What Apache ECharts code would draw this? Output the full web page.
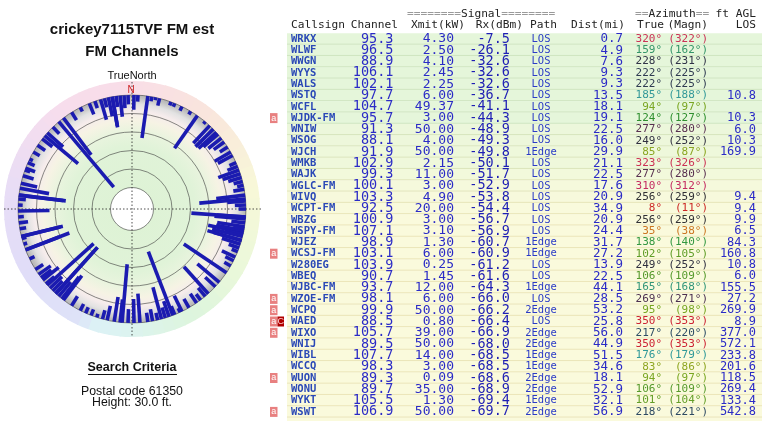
<!DOCTYPE html>
<html><head><meta charset="utf-8">
<script src="https://cdn.jsdelivr.net/npm/echarts@6.0.0/dist/echarts.min.js"></script>
<style>html,body{margin:0;padding:0;background:#fff;}#c{width:762px;height:421px;}</style>
</head><body><div id="c"></div>
<script>
// ---------- table data ----------
const calls = ['WRKX','WLWF','WWGN','WYYS','WALS','WSTQ','WCFL','WJDK-FM','WNIW','WSOG','WJCH','WMKB','WAJK','WGLC-FM','WIVQ','WCPT-FM','WBZG','WSPY-FM','WJEZ','WCSJ-FM','W280EG','WBEQ','WJBC-FM','WZOE-FM','WCPQ','WAED','WIXO','WNIJ','WIBL','WCCQ','WUON','WONU','WYKT','WSWT'];
const channel = [95.3,96.5,88.9,106.1,102.1,97.7,104.7,95.7,91.3,88.1,91.9,102.9,99.3,100.1,103.3,92.5,100.9,107.1,98.9,103.1,103.9,90.7,93.7,98.1,99.9,88.5,105.7,89.5,107.7,98.3,89.3,89.7,105.5,106.9];
const xmitKW = [4.30,2.50,4.10,2.45,2.25,6.00,49.37,3.00,50.00,4.00,50.00,2.15,11.00,3.00,4.90,20.00,3.00,3.10,1.30,6.00,0.25,1.45,12.00,6.00,50.00,0.80,39.00,50.00,14.00,3.00,0.09,35.00,1.30,50.00];
const rxDbm = [-7.5,-26.1,-32.6,-32.6,-32.6,-36.7,-41.1,-44.3,-48.9,-49.3,-49.8,-50.1,-51.7,-52.9,-53.8,-54.4,-56.7,-56.9,-60.7,-60.9,-61.2,-61.6,-64.3,-66.0,-66.2,-66.4,-66.9,-68.0,-68.5,-68.5,-68.6,-68.9,-69.4,-69.7];
const pathType = ['LOS','LOS','LOS','LOS','LOS','LOS','LOS','LOS','LOS','LOS','1Edge','LOS','LOS','LOS','LOS','LOS','LOS','LOS','1Edge','1Edge','LOS','LOS','1Edge','LOS','2Edge','LOS','2Edge','2Edge','1Edge','1Edge','2Edge','2Edge','1Edge','2Edge'];
const distMi = [0.7,4.9,7.6,9.3,9.3,13.5,18.1,19.1,22.5,16.0,29.9,21.1,22.5,17.6,20.9,34.9,20.9,24.4,31.7,27.2,13.9,22.5,44.1,28.5,53.2,25.8,56.0,44.9,51.5,34.6,18.1,52.9,32.1,56.9];
const azTrue = [320,159,228,222,222,185,94,124,277,249,85,323,277,310,256,8,256,35,138,102,249,106,165,269,95,350,217,350,176,83,94,106,101,218];
const azMagn = [322,162,231,225,225,188,97,127,280,252,87,326,280,312,259,11,259,38,140,105,252,109,168,271,98,353,220,353,179,86,97,109,104,221];
const aglLos = [null,null,null,null,null,10.8,null,10.3,6.0,10.3,169.9,null,null,null,9.4,9.4,9.9,6.5,84.3,160.8,10.8,6.0,155.5,27.2,269.9,8.9,377.0,572.1,233.8,201.6,118.5,269.4,133.4,542.8];
const markARows = [7,19,23,24,25,26,30,33];
const markCRows = [25];

// ---------- stations shown only in the polar plot (estimated) ----------
const extraAz = [1,356,354,348,344,338,333,328,3,358,352,346,341,10,12,14,
  20,22,26,31,40,43,45.5,47.7,49,51.6,54,57,60,62,66,68,70,72,74,76,78,80,86,88,
  90,97,99,100,103,104,108,110,112,115,117,120,130,133,140,143,145.5,150,154,155,158,161,163,167,169.6,172,179,182,
  186,189,192.6,195,198,201,204,207,212,220,224,226,229,231.5,233,235,238,
  244,252,255,260,263,266,272,275,280.5,283,287,290,291,294,296,300,304,308,312,316];
const extraRx = [-84,-86,-77,-79,-77,-87,-95,-90,-93,-90,-88,-90,-92,-95,-97,-92,
  -96,-96,-95,-96,-97,-74,-73,-74,-79,-82,-86,-90,-80,-82,-92,-88,-76,-80,-85,-90,-93,-88,-80,-88,
  -92,-85,-70,-88,-80,-66,-79,-88,-93,-84,-90,-92,-69,-85,-88,-92,-88,-89,-81,-95,-90,-82,-88,-92,-87,-90,-74,-85,
  -75,-73,-84,-90,-96,-93,-93,-92,-88,-80,-85,-82,-88,-78,-86,-84,-90,
  -94,-96,-95,-93,-90,-94,-95,-92,-68,-82,-88,-94,-89,-92,-96,-92,-90,-86,-77,-90];

// ---------- styling helpers ----------
const CX = 132, CY = 209, R_IN = 21.5, R_OUT = 114, R_RING = 128;
function hex(c){return [parseInt(c.substr(1,2),16),parseInt(c.substr(3,2),16),parseInt(c.substr(5,2),16)];}
function lerpStops(stops, v){
  for (let k=0;k<stops.length-1;k++){
    const a=stops[k], b=stops[k+1];
    if (v>=a[0] && v<=b[0]){
      const t=(v-a[0])/((b[0]-a[0])||1), ca=hex(a[1]), cb=hex(b[1]);
      return 'rgb('+ca.map((x,j)=>Math.round(x+(cb[j]-x)*t)).join(',')+')';
    }
  }
  return stops[stops.length-1][1];
}
const azColorStops = [[0,'#cc2233'],[10,'#cc2a22'],[35,'#cc7722'],[83,'#8fa622'],[95,'#77a622'],[104,'#5a9a2a'],[124,'#2f8f2f'],[140,'#339944'],[160,'#33956a'],[176,'#2f9999'],[186,'#339999'],[217,'#2e4e66'],[224,'#303348'],[250,'#303040'],[258,'#303030'],[268,'#4a3050'],[278,'#5a3050'],[305,'#c02866'],[322,'#cc3355'],[350,'#cc2233'],[360,'#cc2233']];
const ringStops = [[0,'#f9dde7'],[40,'#f9e6dc'],[80,'#f8f8d8'],[120,'#eaf8da'],[150,'#ddf5dd'],[185,'#dcf3f1'],[200,'#dcf0f6'],[205,'#dee2f8'],[240,'#e0ddf8'],[280,'#e8ddf6'],[320,'#f6dded'],[360,'#f9dde7']];
function rowBg(rx){ const t=Math.max(0,Math.min(1,(-rx-46)/9)); return lerpStops([[0,'#e5f6da'],[1,'#fafadc']], t); }
function rowLine(rx){ const t=Math.max(0,Math.min(1,(-rx-46)/9)); return lerpStops([[0,'#cfe5c0'],[1,'#ebe5b8']], t); }

const G = [];
function txt(text,x,y,font,fill,align,extra){
  const o={type:'text',x:x,y:y,z:20,silent:true,style:Object.assign({text:text,font:font,fill:fill,align:align||'left',textAlign:align||'left',verticalAlign:'middle',textVerticalAlign:'middle'},extra||{})};
  G.push(o); return o;
}

// ---- polar background ----
for (let k=0;k<72;k++){
  const a0=k*5, a1=a0+5.6;
  G.push({type:'sector',z:-10,silent:true,shape:{cx:CX,cy:CY,r0:R_OUT,r:R_RING,startAngle:(a0-90)*Math.PI/180,endAngle:(a1-90)*Math.PI/180},style:{fill:lerpStops(ringStops,a0+2.5)}});
}
G.push({type:'circle',z:-9,silent:true,shape:{cx:CX,cy:CY,r:R_OUT},style:{fill:new echarts.graphic.RadialGradient(0.5,0.5,0.5,[
  {offset:0,color:'#ddf2d4'},{offset:0.55,color:'#e0f3d8'},{offset:0.68,color:'#e9f4de'},{offset:0.78,color:'#f6f3e4'},
  {offset:0.86,color:'#f6ecec'},{offset:0.92,color:'#e2e2e2'},{offset:0.975,color:'#bfbfbf'},{offset:1,color:'#b4b4b4'}])}});
G.push({type:'circle',z:-8,silent:true,shape:{cx:CX,cy:CY,r:R_IN},style:{fill:'#ffffff'}});
G.push({type:'line',z:-7,silent:true,shape:{x1:4,y1:CY,x2:261,y2:CY},style:{stroke:'#222',lineWidth:0.8,lineDash:[1.5,2]}});
G.push({type:'line',z:-7,silent:true,shape:{x1:CX,y1:82,x2:CX,y2:337},style:{stroke:'#222',lineWidth:0.8,lineDash:[1.5,2]}});

// ---- left texts ----
const sans = "'Liberation Sans', Arial, sans-serif";
txt('crickey7115TVF FM est',132,30,'bold 15px '+sans,'#111','center');
txt('FM Channels',132,52,'bold 15px '+sans,'#111','center');
txt('TrueNorth',132,76,'11px '+sans,'#111','center');
txt('N',131,90,'10px '+sans,'#cc2222','center');
txt('Search Criteria',132,368,'bold 12.5px '+sans,'#111','center');
G.push({type:'line',z:20,silent:true,shape:{x1:88,y1:374.5,x2:177,y2:374.5},style:{stroke:'#111',lineWidth:1}});
txt('Postal code 61350',132,391.5,'12.3px '+sans,'#111','center');
txt('Height: 30.0 ft.',132,403,'12.3px '+sans,'#111','center');

// ---- table ----
const mono = "'DejaVu Sans Mono', monospace";
const ROW0 = 39, PITCH = 11.3;
const hf = '11.2px '+mono, cw = 6.74;
txt('========',407,14,hf,'#9a9a9a');
txt('Signal',407+8*cw,14,hf,'#222');
txt('========',407+14*cw,14,hf,'#9a9a9a');
txt('==',635,14,hf,'#9a9a9a');
txt('Azimuth',635+2*cw,14,hf,'#222');
txt('==',635+9*cw,14,hf,'#9a9a9a');
txt('ft AGL',756,14,hf,'#222','right');
txt('Callsign',291,25.5,hf,'#222');
txt('Channel',398,25.5,hf,'#222','right');
txt('Xmit(kW)',465,25.5,hf,'#222','right');
txt('Rx(dBm)',523,25.5,hf,'#222','right');
txt('Path',557,25.5,hf,'#222','right');
txt('Dist(mi)',625,25.5,hf,'#222','right');
txt('True',637,25.5,hf,'#222');
txt('(Magn)',708,25.5,hf,'#222','right');
txt('LOS',756,25.5,hf,'#222','right');

for (let i=0;i<calls.length+1;i++){
  const y = ROW0 + i*PITCH;
  const rx = i<calls.length ? rxDbm[i] : -70;
  G.push({type:'rect',z:1,silent:true,shape:{x:287,y:y-PITCH/2,width:475,height:PITCH},style:{fill:rowBg(rx)}});
  G.push({type:'line',z:2,silent:true,shape:{x1:287,y1:y+PITCH/2-0.5,x2:762,y2:y+PITCH/2-0.5},style:{stroke:rowLine(rx),lineWidth:1}});
  if (i>=calls.length) continue;
  const ac = lerpStops(azColorStops, azTrue[i]);
  txt(calls[i],291,y,'bold 10.5px '+mono,'#2a48b6');
  txt(channel[i].toFixed(1),393.5,y,'13.5px '+mono,'#2b2bc6','right');
  txt(xmitKW[i].toFixed(2),454,y,'13px '+mono,'#2b2bc6','right');
  txt(rxDbm[i].toFixed(1),510,y,'13.5px '+mono,'#1e1eb4','right');
  txt(pathType[i],541,y,'10.5px '+mono,'#2b3bc6','center');
  txt(distMi[i].toFixed(1),623,y,'12.5px '+mono,'#2b2bc6','right');
  txt(azTrue[i]+'\u00b0',662,y,'11px '+mono,ac,'right');
  txt('('+azMagn[i]+'\u00b0)',708,y,'11px '+mono,ac,'right');
  if (aglLos[i]!=null) txt(aglLos[i].toFixed(1),756,y,'12px '+mono,'#2b2bc6','right');
}
markARows.forEach(r=>{
  const y=ROW0+r*PITCH;
  G.push({type:'rect',z:3,silent:true,shape:{x:270,y:y-5,width:7.5,height:10},style:{fill:'#e88080'}});
  txt('a',273.8,y,'9px '+sans,'#ffffff','center');
});
markCRows.forEach(r=>{
  const y=ROW0+r*PITCH;
  G.push({type:'rect',z:3,silent:true,shape:{x:277.5,y:y-5,width:6.5,height:10},style:{fill:'#b00000'}});
  txt('C',280.8,y,'9px '+sans,'#ffd0d0','center');
});

// ---------- polar bars ----------
const barData = azTrue.map((a,i)=>[rxDbm[i],a]).concat(extraAz.map((a,i)=>[extraRx[i],a]));

const chart = echarts.init(document.getElementById('c'));
chart.setOption({
  animation:false,
  polar:{center:[CX,CY],radius:[R_IN,R_OUT]},
  angleAxis:{type:'value',min:0,max:360,startAngle:90,clockwise:true,show:false},
  radiusAxis:{type:'value',min:-100,max:0,interval:20,inverse:true,
    axisLine:{show:false},axisTick:{show:false},axisLabel:{show:false},
    splitLine:{show:true,lineStyle:{color:'#3a3a3a',width:0.6}}},
  graphic:{elements:G},
  series:[{
    type:'custom',coordinateSystem:'polar',z:5,
    encode:{radius:0,angle:1},
    data:barData,
    renderItem:function(params,api){
      const v=api.value(0), a=api.value(1);
      const p1=api.coord([-100,a]), p2=api.coord([v,a]);
      return {type:'line',shape:{x1:p1[0],y1:p1[1],x2:p2[0],y2:p2[1]},style:{stroke:'#1b1bb0',lineWidth:3.6,lineCap:'butt'}};
    }
  }]
});
</script>
</body></html>
